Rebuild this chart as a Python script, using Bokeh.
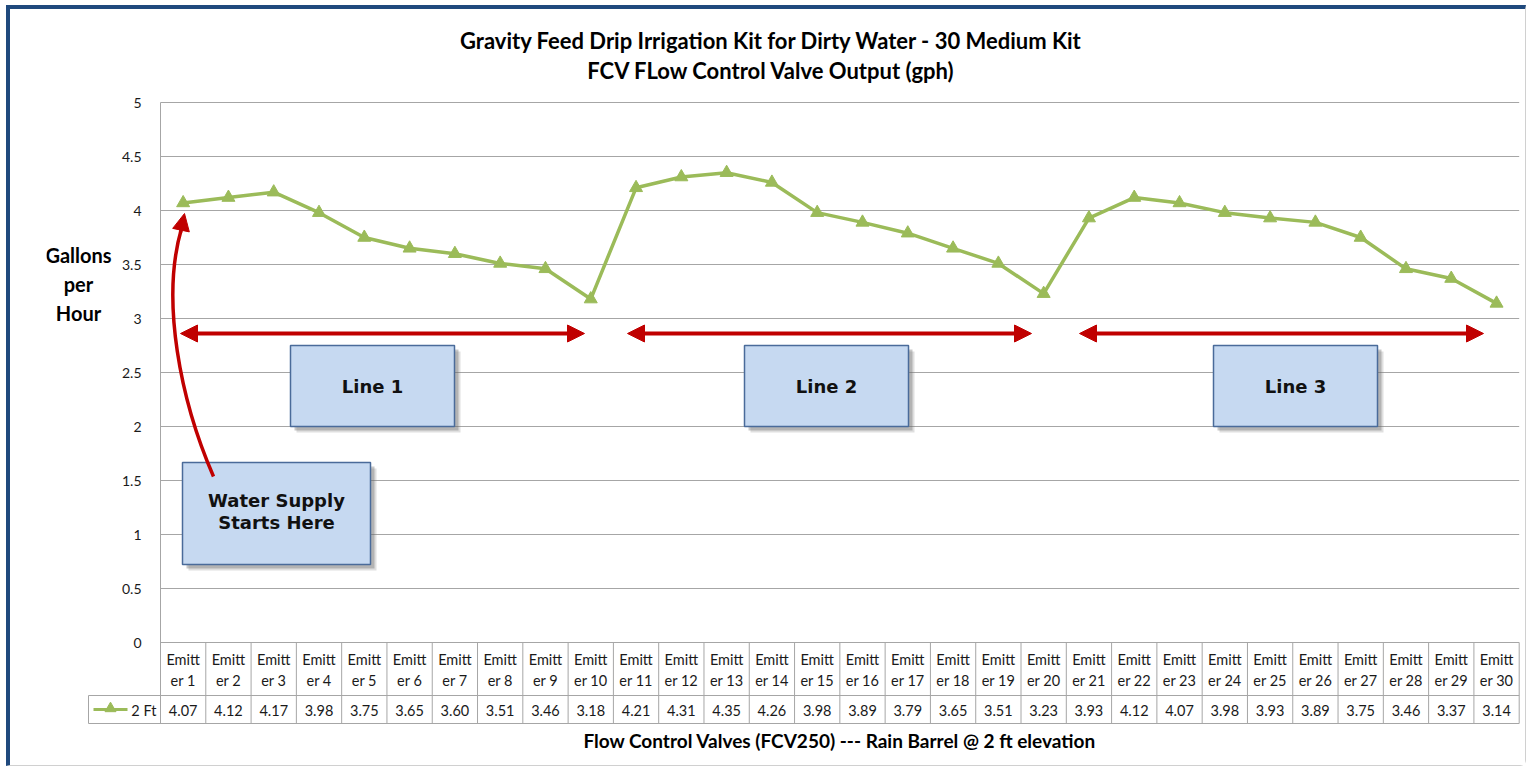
from bokeh.plotting import figure
from bokeh.models import (Range1d, FixedTicker, CustomJSTickFormatter, ColumnDataSource,
                          LabelSet, Label, Arrow, NormalHead)
from bokeh.core.properties import value
from bokeh.embed import file_html
from bokeh.resources import INLINE

# ---------------- data ----------------
categories = [f"Emitter {i}" for i in range(1, 31)]
series_name = "2 Ft"
flow_gph = [4.07, 4.12, 4.17, 3.98, 3.75, 3.65, 3.60, 3.51, 3.46, 3.18,
            4.21, 4.31, 4.35, 4.26, 3.98, 3.89, 3.79, 3.65, 3.51, 3.23,
            3.93, 4.12, 4.07, 3.98, 3.93, 3.89, 3.75, 3.46, 3.37, 3.14]
y_ticks = [0, 0.5, 1, 1.5, 2, 2.5, 3, 3.5, 4, 4.5, 5]
y_tick_labels = ["0", "0.5", "1", "1.5", "2", "2.5", "3", "3.5", "4", "4.5", "5"]
line_names = ["Line 1", "Line 2", "Line 3"]
title_lines = ["Gravity Feed Drip Irrigation Kit for Dirty Water - 30 Medium Kit",
               "FCV FLow Control Valve Output (gph)"]
y_title_lines = ["Gallons", "per", "Hour"]
x_title = "Flow Control Valves (FCV250) --- Rain Barrel @ 2 ft elevation"
note_lines = ["Water Supply", "Starts Here"]

# ---------------- layout helpers (page pixel -> data) ----------------
PX_L, PX_UNIT = 160.0, 45.29
PY_TOP, PY_UNIT = 102.0, 108.0


def X(px):
    return 0.5 + (px - PX_L) / PX_UNIT


def Y(py):
    return 5 - (py - PY_TOP) / PY_UNIT


GREEN = "#9BBB59"
RED = "#C00000"
GRID = "#A6A6A6"
BOX_FILL = "#C6D9F1"
BOX_LINE = "#4A6B9A"
FONT = "Lato"

xs = list(range(1, len(categories) + 1))
x_lo, x_hi = xs[0] - 0.5, xs[-1] + 0.5

# canvas origin sits at page (10, 9); frame spans page x 46..1520, y 9..770
p = figure(width=1520, height=761, title=None,
           x_range=Range1d(X(46), X(1520)), y_range=Range1d(Y(770), Y(9)),
           output_backend="svg", toolbar_location=None,
           min_border_left=36, min_border_right=10,
           min_border_top=0, min_border_bottom=0)
p.styles = {"margin-left": "6px", "margin-top": "5px",
            "border-top": "4px solid #1F497D", "border-left": "4px solid #1F497D",
            "border-right": "1px solid #D0D0D0", "border-bottom": "1px solid #D0D0D0",
            "border-bottom-right-radius": "6px"}
p.outline_line_color = None
p.background_fill_color = "white"
p.border_fill_color = "white"
p.xgrid.visible = False
p.ygrid.visible = False
p.xaxis.visible = False

# y axis, pinned at the left edge of the category area
row_mid = Y(695)
tbl_bottom = Y(723)
p.yaxis.fixed_location = x_lo
p.yaxis.bounds = (tbl_bottom, y_ticks[-1])
p.yaxis.ticker = FixedTicker(ticks=y_ticks)
p.yaxis.formatter = CustomJSTickFormatter(
    args=dict(tvals=y_ticks, tlabels=y_tick_labels),
    code="const i = tvals.indexOf(tick); return i >= 0 ? tlabels[i] : '';")
p.yaxis.major_tick_line_color = None
p.yaxis.minor_tick_line_color = None
p.yaxis.axis_line_color = GRID
p.yaxis.major_label_standoff = 13
p.yaxis.major_label_text_font = FONT
p.yaxis.major_label_text_font_size = "14px"
p.yaxis.major_label_text_color = "#1a1a1a"

# horizontal gridlines at the y ticks, spanning the category area only
p.segment(x0=[x_lo] * len(y_ticks), x1=[x_hi] * len(y_ticks), y0=y_ticks, y1=y_ticks,
          line_color=GRID, line_width=1)

# ---------------- data table under the plot ----------------
edges = [x - 0.5 for x in xs] + [x_hi]
p.segment(x0=edges, x1=edges, y0=[0] * len(edges), y1=[tbl_bottom] * len(edges),
          line_color=GRID, line_width=1)
p.segment(x0=[X(88), X(88)], x1=[x_hi, x_hi], y0=[row_mid, tbl_bottom], y1=[row_mid, tbl_bottom],
          line_color=GRID, line_width=1)
p.segment(x0=[X(88)], x1=[X(88)], y0=[row_mid], y1=[tbl_bottom], line_color=GRID, line_width=1)

tsrc = ColumnDataSource(dict(
    x=xs,
    top=[c[:5] for c in categories],
    bot=[c[5:] for c in categories],
    val=[f"{v:.2f}" for v in flow_gph],
    y_top=[Y(659)] * len(xs),
    y_bot=[Y(680)] * len(xs),
    y_val=[Y(710)] * len(xs),
))
for col, ycol in (("top", "y_top"), ("bot", "y_bot"), ("val", "y_val")):
    p.add_layout(LabelSet(x="x", y=ycol, text=col, source=tsrc,
                          text_align="center", text_baseline="middle",
                          text_font=value(FONT), text_font_size=value("14.5px"),
                          text_color=value("#1a1a1a")))

# legend key in the table's first cell
p.segment(x0=[X(93)], x1=[X(127)], y0=[Y(709)], y1=[Y(709)], line_color=GREEN, line_width=3)
p.scatter(x=[X(110)], y=[Y(708)], marker="triangle", size=11, fill_color=GREEN, line_color=GREEN)
p.add_layout(Label(x=X(156), y=Y(710), text=series_name, text_align="right",
                   text_baseline="middle", text_font=FONT, text_font_size="14.5px",
                   text_color="#1a1a1a"))

# x title under the table
p.add_layout(Label(x=(x_lo + x_hi) / 2, y=Y(740), text=x_title, text_align="center",
                   text_baseline="middle", text_font=FONT, text_font_style="bold",
                   text_font_size="19px", text_color="black"))

# ---------------- series ----------------
p.line(xs, flow_gph, line_color=GREEN, line_width=3.5)
p.scatter(xs, flow_gph, marker="triangle", size=13, fill_color=GREEN, line_color=GREEN)

# ---------------- red span arrows ----------------
arrow_starts = [178, 625, 1077]
arrow_ends = [586, 1033, 1485]
for a, b in zip(arrow_starts, arrow_ends):
    p.add_layout(Arrow(start=NormalHead(size=17, fill_color=RED, line_color=RED),
                       end=NormalHead(size=17, fill_color=RED, line_color=RED),
                       x_start=X(a + 2), y_start=Y(333), x_end=X(b - 2), y_end=Y(333),
                       line_color=RED, line_width=4))

# ---------------- callout boxes ----------------
box_left_px = [290, 744, 1213]
box_w_px = 164
sh_dx, sh_dy = 4 / PX_UNIT, 4 / PY_UNIT


def callout(l, r, t, b):
    p.quad(left=[l + sh_dx * 1.5], right=[r + sh_dx * 1.5], top=[t - sh_dy * 1.5],
           bottom=[b - sh_dy * 1.5], fill_color="#808080", fill_alpha=0.25, line_color=None)
    p.quad(left=[l + sh_dx], right=[r + sh_dx], top=[t - sh_dy], bottom=[b - sh_dy],
           fill_color="#606060", fill_alpha=0.35, line_color=None)
    p.quad(left=[l], right=[r], top=[t], bottom=[b],
           fill_color=BOX_FILL, line_color=BOX_LINE, line_width=1.5)


for name, lpx in zip(line_names, box_left_px):
    l, r, t, b = X(lpx), X(lpx + box_w_px), Y(345), Y(426)
    callout(l, r, t, b)
    p.add_layout(Label(x=(l + r) / 2, y=Y(386), text=name, text_align="center",
                       text_baseline="middle", text_font="DejaVu Sans",
                       text_font_style="bold", text_font_size="18px", text_color="#111111"))

l, r, t, b = X(182), X(370), Y(462), Y(564)
callout(l, r, t, b)
for txt, py in zip(note_lines, [500, 522]):
    p.add_layout(Label(x=(l + r) / 2, y=Y(py), text=txt, text_align="center",
                       text_baseline="middle", text_font="DejaVu Sans",
                       text_font_style="bold", text_font_size="18px", text_color="#111111"))

# curved arrow toward emitter 1
p.bezier(x0=[X(213)], y0=[Y(476)], x1=[X(181)], y1=[Y(228)],
         cx0=[X(180)], cy0=[Y(400)], cx1=[X(160)], cy1=[Y(300)],
         line_color=RED, line_width=3.5)
p.add_layout(Arrow(end=NormalHead(size=17, fill_color=RED, line_color=RED),
                   x_start=X(180), y_start=Y(232), x_end=X(184), y_end=Y(213),
                   line_color=RED, line_width=3.5))

# ---------------- titles ----------------
for txt, py in zip(title_lines, [40, 70]):
    p.add_layout(Label(x=X(771), y=Y(py), text=txt, text_align="center",
                       text_baseline="middle", text_font=FONT, text_font_style="bold",
                       text_font_size="22px", text_color="black"))
for txt, py in zip(y_title_lines, [254, 283, 312]):
    p.add_layout(Label(x=X(78), y=Y(py), text=txt, text_align="center",
                       text_baseline="middle", text_font=FONT, text_font_style="bold",
                       text_font_size="20px", text_color="black"))

open("out.html", "w").write(file_html(p, INLINE))
